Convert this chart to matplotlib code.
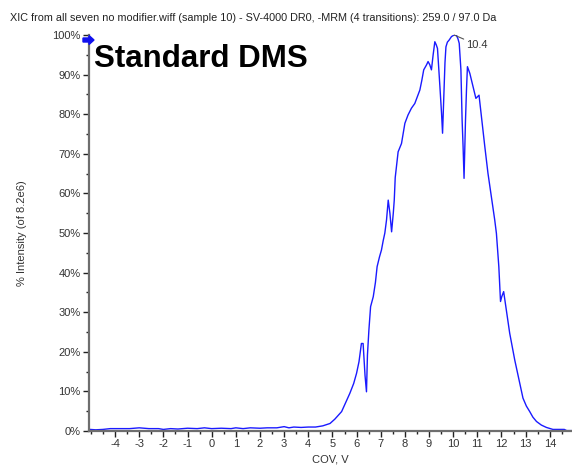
import matplotlib
matplotlib.use("Agg")
import matplotlib.pyplot as plt
from matplotlib.ticker import MultipleLocator, FixedLocator, FuncFormatter
from matplotlib.patches import FancyArrow

plt.rcParams['font.family'] = ['Liberation Sans', 'DejaVu Sans']

title_text = "XIC from all seven no modifier.wiff (sample 10) - SV-4000 DR0, -MRM (4 transitions): 259.0 / 97.0 Da"
panel_label = "Standard DMS"
x_label = "COV, V"
y_label = "% Intensity (of 8.2e6)"
peak_label = "10.4"
x_ticks = list(range(-4, 15))

# compensation voltage (V) and relative intensity (%)
cov = [
    -5.05, -4.8, -4.5, -4.2, -3.8, -3.4, -3.0, -2.6, -2.2, -2.0, -1.7, -1.4,
    -1.0, -0.6, -0.3, 0.0, 0.4, 0.8, 1.0, 1.3, 1.6, 2.0, 2.3, 2.7, 3.0, 3.2,
    3.4, 3.7, 4.0, 4.3, 4.6, 4.9, 5.1, 5.38, 5.55, 5.72, 5.88, 6.0, 6.1, 6.2,
    6.27, 6.35, 6.41, 6.45, 6.51, 6.58, 6.69, 6.78, 6.85, 6.95, 7.03, 7.10,
    7.17, 7.24, 7.31, 7.38, 7.45, 7.52, 7.56, 7.6, 7.65, 7.72, 7.86, 8.0, 8.13,
    8.27, 8.41, 8.55, 8.62, 8.7, 8.78, 8.9, 8.96, 9.03, 9.1, 9.17, 9.24, 9.3,
    9.35, 9.4, 9.45, 9.52, 9.56, 9.61, 9.66, 9.7, 9.76, 9.83, 9.93, 10.04,
    10.13, 10.2, 10.25, 10.32, 10.37, 10.41, 10.45, 10.51, 10.55, 10.59,
    10.69, 10.82, 10.94, 11.07, 11.17, 11.31, 11.44, 11.58, 11.72, 11.79,
    11.89, 11.96, 12.01, 12.09, 12.18, 12.34, 12.55, 12.76, 12.89, 13.03,
    13.17, 13.3, 13.45, 13.65, 13.86, 14.13, 14.4, 14.6, 14.7, 14.95,
]
intensity = [
    0.4, 0.3, 0.4, 0.6, 0.6, 0.6, 0.8, 0.6, 0.6, 0.4, 0.6, 0.5,
    0.7, 0.6, 0.8, 0.6, 0.7, 0.6, 0.8, 0.6, 0.8, 0.7, 0.8, 0.8, 1.1, 0.8,
    1.0, 0.9, 1.0, 1.0, 1.3, 1.9, 3.0, 4.9, 7.2, 9.5, 12.0, 14.6, 17.5, 22.1,
    22.1, 14.0, 9.9, 19.2, 25.5, 31.4, 33.9, 37.5, 41.5, 44.0, 45.7, 48.0,
    50.0, 53.3, 58.3, 55.0, 50.3, 55.0, 58.3, 64.0, 66.7, 70.5, 72.6, 77.7, 79.8,
    81.5, 82.7, 85.0, 86.1, 88.5, 91.2, 92.5, 93.3, 92.5, 91.2, 95.0, 98.3, 97.5,
    96.6, 92.0, 87.0, 80.0, 75.2, 84.4, 93.0, 97.0, 98.2, 98.7, 99.6, 100.0,
    100.0, 99.0, 97.9, 91.2, 78.5, 71.8, 63.8, 78.5, 86.0, 92.0,
    90.3, 87.0, 84.0, 84.8, 79.4, 71.8, 65.1, 59.2, 53.3, 49.9,
    41.5, 32.7, 33.9, 35.2, 31.4, 24.7, 17.9, 12.0, 8.3, 6.3,
    4.9, 3.5, 2.4, 1.5, 0.9, 0.4, 0.4, 0.4, 0.1, 0.1,
]

W, H = 572, 466
fig = plt.figure(figsize=(W / 100, H / 100), dpi=100)
left, right, bottom, top = 89, 572, 431, 35
ax = fig.add_axes([left / W, 1 - bottom / H, (right - left) / W, (bottom - top) / H])

ax.plot(cov, intensity, color='#1a1aff', lw=1.0)

ax.set_xlim(-5.08, 14.92)
ax.set_ylim(0, 100)

ax.xaxis.set_major_locator(FixedLocator(x_ticks))
ax.xaxis.set_minor_locator(MultipleLocator(0.5))
ax.yaxis.set_major_locator(MultipleLocator(10))
ax.yaxis.set_minor_locator(MultipleLocator(5))
ax.yaxis.set_major_formatter(FuncFormatter(lambda v, p: f"{int(round(v))}%"))
ax.xaxis.set_major_formatter(FuncFormatter(lambda v, p: f"{int(round(v))}"))

spine_color = '#6e6e6e'
for s in ('top', 'right'):
    ax.spines[s].set_visible(False)
for s in ('left', 'bottom'):
    ax.spines[s].set_color(spine_color)
    ax.spines[s].set_linewidth(1.6)

label_color = '#333333'
ax.tick_params(axis='both', which='major', length=4, width=1, color='#222222',
               labelsize=8, labelcolor=label_color, pad=2)
ax.tick_params(axis='both', which='minor', length=2, width=1, color='#222222')

ax.set_xlabel(x_label, fontsize=8, color=label_color, labelpad=4)
ax.set_ylabel(y_label, fontsize=8, color=label_color, labelpad=18)

fig.text(10 / W, 1 - 18 / H, title_text, fontsize=7.8, color='#222222',
         ha='left', va='center')
fig.text(94 / W, 1 - 59 / H, panel_label, fontsize=22.5, fontweight='bold',
         color='black', ha='left', va='center')

# apex marker line and label
apex_i = intensity.index(max(intensity))
ax.annotate(peak_label, xy=(cov[apex_i], intensity[apex_i]),
            xytext=(10.55, 97.5), textcoords='data', fontsize=8,
            color='#333333', ha='left', va='center',
            arrowprops=dict(arrowstyle='-', color='#555555', lw=0.8,
                            shrinkA=0, shrinkB=0))

# blue pointer on the y axis at full scale
fig.patches.append(FancyArrow(83 / W, 1 - 40 / H, 6 / W, 0, width=4 / H,
                              head_width=9 / H, head_length=5 / W,
                              length_includes_head=False, color='#1010ee',
                              transform=fig.transFigure, figure=fig))

fig.savefig("out.png", dpi=100)
